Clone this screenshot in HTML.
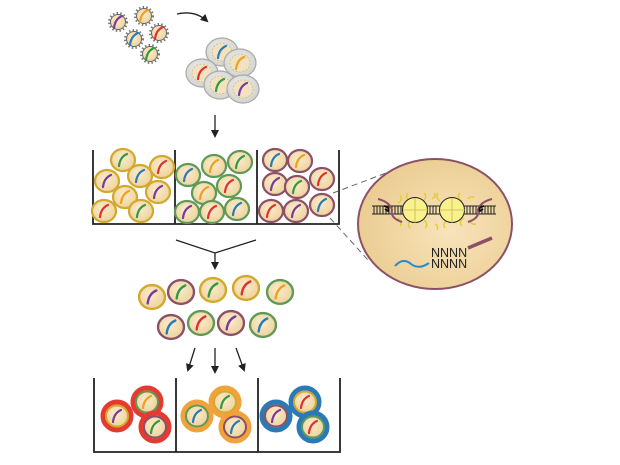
<!DOCTYPE html>
<html><head><meta charset="utf-8"><style>
html,body{margin:0;padding:0;background:#fff;width:620px;height:465px;overflow:hidden}
svg{display:block}
</style></head><body>
<svg width="620" height="465" viewBox="0 0 620 465" xmlns="http://www.w3.org/2000/svg">
<defs>
<radialGradient id="beige" cx="45%" cy="40%" r="65%"><stop offset="0" stop-color="#fbeccb"/><stop offset="1" stop-color="#ecd09a"/></radialGradient>
<radialGradient id="big" cx="60%" cy="55%" r="60%"><stop offset="0" stop-color="#f8e3bb"/><stop offset="1" stop-color="#ebcd92"/></radialGradient>
<radialGradient id="grey" cx="45%" cy="40%" r="65%"><stop offset="0" stop-color="#f0f0ee"/><stop offset="1" stop-color="#cfcfcc"/></radialGradient>
<marker id="ah" markerWidth="8" markerHeight="8" refX="6" refY="4" orient="auto" markerUnits="userSpaceOnUse"><path d="M0,0 L8,4 L0,8 z" fill="#222"/></marker>
<path id="cv" d="M-4,6 Q-3,-3 4,-6" fill="none" stroke-width="2.2" stroke-linecap="round"/>
<g id="cellY"><ellipse rx="12" ry="11" fill="url(#beige)" stroke="#d2a92c" stroke-width="2.2"/></g>
<g id="cellG"><ellipse rx="12" ry="11" fill="url(#beige)" stroke="#5e9a55" stroke-width="2.2"/></g>
<g id="cellM"><ellipse rx="12" ry="11" fill="url(#beige)" stroke="#8c5068" stroke-width="2.2"/></g>
<g id="vir"><circle r="9" fill="none" stroke="#777" stroke-width="2" stroke-dasharray="1.5 2.2"/><circle r="7.5" fill="url(#beige)" stroke="#666" stroke-width="1"/></g>
<g id="host"><ellipse rx="16" ry="14" fill="url(#grey)" stroke="#a9a9a6" stroke-width="1.2"/><ellipse rx="10" ry="9" fill="#f2e2bf" stroke="#c9b98e" stroke-width="0.8" stroke-dasharray="2 1.5"/></g>
</defs>

<use href="#vir" x="118" y="22"/><use href="#cv" x="118" y="22" stroke="#7b3a9a"/>
<use href="#vir" x="144" y="16"/><use href="#cv" x="144" y="16" stroke="#f0a020"/>
<use href="#vir" x="134" y="39"/><use href="#cv" x="134" y="39" stroke="#2a7ab8"/>
<use href="#vir" x="159" y="33"/><use href="#cv" x="159" y="33" stroke="#e03030"/>
<use href="#vir" x="150" y="54"/><use href="#cv" x="150" y="54" stroke="#2f9a40"/>
<path d="M177,14 Q195,10 207,21" fill="none" stroke="#222" stroke-width="1.3" marker-end="url(#ah)"/>

<use href="#host" x="222" y="52"/><use href="#cv" x="222" y="52" stroke="#2a7ab8"/>
<use href="#host" x="240" y="63"/><use href="#cv" x="240" y="63" stroke="#f0a020"/>
<use href="#host" x="202" y="73"/><use href="#cv" x="202" y="73" stroke="#e03030"/>
<use href="#host" x="220" y="85"/><use href="#cv" x="220" y="85" stroke="#2f9a40"/>
<use href="#host" x="243" y="89"/><use href="#cv" x="243" y="89" stroke="#7b3a9a"/>
<line x1="215" y1="115" x2="215" y2="136" stroke="#222" stroke-width="1.3" marker-end="url(#ah)"/>

<path d="M93,150 V224 H339 V150 M175,150 V224 M257,150 V224" fill="none" stroke="#222" stroke-width="1.8"/>
<use href="#cellY" x="123" y="160"/><use href="#cv" x="123" y="160" stroke="#2f9a40"/>
<use href="#cellY" x="162" y="167"/><use href="#cv" x="162" y="167" stroke="#e03030"/>
<use href="#cellY" x="107" y="181"/><use href="#cv" x="107" y="181" stroke="#7b3a9a"/>
<use href="#cellY" x="140" y="176"/><use href="#cv" x="140" y="176" stroke="#2a7ab8"/>
<use href="#cellY" x="125" y="197"/><use href="#cv" x="125" y="197" stroke="#f0a020"/>
<use href="#cellY" x="158" y="192"/><use href="#cv" x="158" y="192" stroke="#7b3a9a"/>
<use href="#cellY" x="104" y="211"/><use href="#cv" x="104" y="211" stroke="#e03030"/>
<use href="#cellY" x="141" y="211"/><use href="#cv" x="141" y="211" stroke="#2f9a40"/>

<use href="#cellG" x="188" y="175"/><use href="#cv" x="188" y="175" stroke="#2a7ab8"/>
<use href="#cellG" x="214" y="166"/><use href="#cv" x="214" y="166" stroke="#f0a020"/>
<use href="#cellG" x="240" y="162"/><use href="#cv" x="240" y="162" stroke="#2f9a40"/>
<use href="#cellG" x="204" y="193"/><use href="#cv" x="204" y="193" stroke="#f0a020"/>
<use href="#cellG" x="229" y="186"/><use href="#cv" x="229" y="186" stroke="#e03030"/>
<use href="#cellG" x="187" y="212"/><use href="#cv" x="187" y="212" stroke="#7b3a9a"/>
<use href="#cellG" x="212" y="212"/><use href="#cv" x="212" y="212" stroke="#e03030"/>
<use href="#cellG" x="237" y="209"/><use href="#cv" x="237" y="209" stroke="#2a7ab8"/>

<use href="#cellM" x="275" y="160"/><use href="#cv" x="275" y="160" stroke="#2a7ab8"/>
<use href="#cellM" x="300" y="161"/><use href="#cv" x="300" y="161" stroke="#f0a020"/>
<use href="#cellM" x="275" y="184"/><use href="#cv" x="275" y="184" stroke="#7b3a9a"/>
<use href="#cellM" x="297" y="187"/><use href="#cv" x="297" y="187" stroke="#2f9a40"/>
<use href="#cellM" x="322" y="179"/><use href="#cv" x="322" y="179" stroke="#e03030"/>
<use href="#cellM" x="271" y="211"/><use href="#cv" x="271" y="211" stroke="#e03030"/>
<use href="#cellM" x="296" y="211"/><use href="#cv" x="296" y="211" stroke="#7b3a9a"/>
<use href="#cellM" x="322" y="205"/><use href="#cv" x="322" y="205" stroke="#2a7ab8"/>

<line x1="333" y1="193" x2="402" y2="167" stroke="#666" stroke-width="1" stroke-dasharray="6 4"/>
<line x1="330" y1="218" x2="368" y2="260" stroke="#666" stroke-width="1" stroke-dasharray="6 4"/>

<ellipse cx="435" cy="224" rx="77" ry="65" fill="url(#big)" stroke="#8c5068" stroke-width="2"/>
<g stroke="#e2cc2a" stroke-width="1.3" fill="none">
<path d="M400,195 q3,5 -2,8 M408,193 q-4,4 2,8 M424,193 q4,4 -1,8 M432,199 q5,-3 2,-6 M438,193 q-3,5 2,8 M460,193 q-4,4 2,8 M468,199 q3,-3 6,-2"/>
<path d="M400,226 q3,-4 -2,-8 M410,228 q-4,-4 2,-8 M425,228 q4,-4 -1,-8 M435,224 q4,2 2,6 M445,228 q-3,-4 2,-8 M462,226 q-4,-4 2,-8 M470,222 q3,3 6,2"/>
</g>
<g stroke="#222" stroke-width="1" fill="none">
<line x1="372" y1="206" x2="496" y2="206"/><line x1="372" y1="214" x2="496" y2="214"/>
<path d="M374,206v8M377,206v8M380,206v8M383,206v8M386,206v8M389,206v8M392,206v8M395,206v8M398,206v8M401,206v8M430,206v8M433,206v8M436,206v8M467,206v8M470,206v8M473,206v8M476,206v8M479,206v8M482,206v8M485,206v8M488,206v8M491,206v8M494,206v8"/>
</g>
<path d="M378,199 q12,3 14,11 q-2,8 10,12" fill="none" stroke="#8c5068" stroke-width="2"/>
<path d="M492,199 q-12,3 -14,11 q2,8 -10,12" fill="none" stroke="#8c5068" stroke-width="2"/>
<path d="M384,206 q6,1 4,5 l-3,-2" fill="none" stroke="#111" stroke-width="1.8"/>
<path d="M484,206 q-6,1 -4,5 l3,-2" fill="none" stroke="#111" stroke-width="1.8"/>
<circle cx="415" cy="210" r="12.5" fill="#f8f18c" stroke="#222" stroke-width="1"/>
<path d="M415,198v25M403,210h25" stroke="#c9b94a" stroke-width="0.8"/>
<circle cx="452" cy="210" r="12.5" fill="#f8f18c" stroke="#222" stroke-width="1"/>
<path d="M452,198v25M440,210h25" stroke="#c9b94a" stroke-width="0.8"/>
<text x="431" y="257" font-family="Liberation Sans, sans-serif" font-size="12.5" fill="#222">NNNN</text>
<text x="431" y="268" font-family="Liberation Sans, sans-serif" font-size="12.5" fill="#222">NNNN</text>
<line x1="468" y1="248" x2="492" y2="238" stroke="#8c5068" stroke-width="3.5"/>
<path d="M395,266 q8,-9 16,-2 q8,6 18,-1" fill="none" stroke="#2a8ad0" stroke-width="2"/>

<path d="M176,240 L215,253 L256,240" fill="none" stroke="#222" stroke-width="1.3"/>
<line x1="215" y1="253" x2="215" y2="268" stroke="#222" stroke-width="1.3" marker-end="url(#ah)"/>

<g transform="translate(152,297) scale(1.08)"><use href="#cellY"/><use href="#cv" stroke="#7b3a9a"/></g>
<g transform="translate(181,292) scale(1.08)"><use href="#cellM"/><use href="#cv" stroke="#2f9a40"/></g>
<g transform="translate(213,290) scale(1.08)"><use href="#cellY"/><use href="#cv" stroke="#2f9a40"/></g>
<g transform="translate(246,288) scale(1.08)"><use href="#cellY"/><use href="#cv" stroke="#e03030"/></g>
<g transform="translate(280,292) scale(1.08)"><use href="#cellG"/><use href="#cv" stroke="#f0a020"/></g>
<g transform="translate(171,327) scale(1.08)"><use href="#cellM"/><use href="#cv" stroke="#2a7ab8"/></g>
<g transform="translate(201,323) scale(1.08)"><use href="#cellG"/><use href="#cv" stroke="#e03030"/></g>
<g transform="translate(231,323) scale(1.08)"><use href="#cellM"/><use href="#cv" stroke="#7b3a9a"/></g>
<g transform="translate(263,325) scale(1.08)"><use href="#cellG"/><use href="#cv" stroke="#2a7ab8"/></g>

<line x1="195" y1="348" x2="188" y2="370" stroke="#222" stroke-width="1.3" marker-end="url(#ah)"/>
<line x1="215" y1="348" x2="215" y2="372" stroke="#222" stroke-width="1.3" marker-end="url(#ah)"/>
<line x1="236" y1="348" x2="244" y2="370" stroke="#222" stroke-width="1.3" marker-end="url(#ah)"/>

<path d="M94,378 V452 H340 V378 M176,378 V452 M258,378 V452" fill="none" stroke="#222" stroke-width="1.8"/>
<g stroke-width="2">
<circle cx="117" cy="416" r="14" fill="none" stroke="#e53a2f" stroke-width="5"/><ellipse cx="117" cy="416" rx="11" ry="10.5" fill="url(#beige)" stroke="#d2a92c"/><use href="#cv" x="117" y="416" stroke="#7b3a9a"/>
<circle cx="147" cy="402" r="14" fill="none" stroke="#e53a2f" stroke-width="5"/><ellipse cx="147" cy="402" rx="11" ry="10.5" fill="url(#beige)" stroke="#5e9a55"/><use href="#cv" x="147" y="402" stroke="#f0a020"/>
<circle cx="155" cy="427" r="14" fill="none" stroke="#e53a2f" stroke-width="5"/><ellipse cx="155" cy="427" rx="11" ry="10.5" fill="url(#beige)" stroke="#8c5068"/><use href="#cv" x="155" y="427" stroke="#2f9a40"/>

<circle cx="197" cy="416" r="14" fill="none" stroke="#f2a23a" stroke-width="5"/><ellipse cx="197" cy="416" rx="11" ry="10.5" fill="url(#beige)" stroke="#5e9a55"/><use href="#cv" x="197" y="416" stroke="#2a7ab8"/>
<circle cx="225" cy="402" r="14" fill="none" stroke="#f2a23a" stroke-width="5"/><ellipse cx="225" cy="402" rx="11" ry="10.5" fill="url(#beige)" stroke="#d2a92c"/><use href="#cv" x="225" y="402" stroke="#2f9a40"/>
<circle cx="235" cy="427" r="14" fill="none" stroke="#f2a23a" stroke-width="5"/><ellipse cx="235" cy="427" rx="11" ry="10.5" fill="url(#beige)" stroke="#8c5068"/><use href="#cv" x="235" y="427" stroke="#2a7ab8"/>

<circle cx="276" cy="416" r="14" fill="none" stroke="#2a7ab8" stroke-width="5"/><ellipse cx="276" cy="416" rx="11" ry="10.5" fill="url(#beige)" stroke="#8c5068"/><use href="#cv" x="276" y="416" stroke="#7b3a9a"/>
<circle cx="305" cy="402" r="14" fill="none" stroke="#2a7ab8" stroke-width="5"/><ellipse cx="305" cy="402" rx="11" ry="10.5" fill="url(#beige)" stroke="#d2a92c"/><use href="#cv" x="305" y="402" stroke="#e03030"/>
<circle cx="313" cy="427" r="14" fill="none" stroke="#2a7ab8" stroke-width="5"/><ellipse cx="313" cy="427" rx="11" ry="10.5" fill="url(#beige)" stroke="#5e9a55"/><use href="#cv" x="313" y="427" stroke="#e03030"/>
</g>
</svg>
</body></html>
